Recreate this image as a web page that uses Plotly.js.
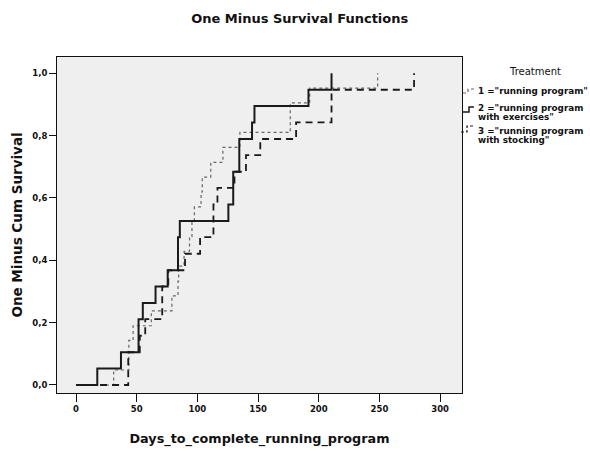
<!DOCTYPE html>
<html>
<head>
<meta charset="utf-8">
<script src="https://cdn.plot.ly/plotly-3.0.1.min.js"></script>
<style>html,body{margin:0;padding:0;background:#fff;}#chart{width:590px;height:451px;}</style>
</head>
<body>
<div id="chart"></div>
<script>
// Group 1: "running program" (dotted)
const days1 = [0, 31, 43.5, 47, 62, 79, 84, 84.5, 89, 93.5, 95.5, 97.5, 103, 104, 111, 121, 135, 176.5, 192.5, 248.5];
const surv1 = [0, 0.048, 0.143, 0.190, 0.238, 0.286, 0.333, 0.381, 0.429, 0.476, 0.524, 0.571, 0.619, 0.667, 0.714, 0.762, 0.810, 0.905, 0.952, 1.0];
// Group 2: "running program with exercises" (solid)
const days2 = [0, 17.5, 37, 51.5, 55, 65.5, 75.5, 84, 85.5, 125.5, 129.5, 134.5, 145, 147, 191.5, 210.5];
const surv2 = [0, 0.053, 0.105, 0.211, 0.263, 0.316, 0.368, 0.474, 0.526, 0.579, 0.684, 0.789, 0.842, 0.895, 0.947, 1.0];
// Group 3: "running program with stocking" (dashed)
const days3 = [0, 43, 52.5, 57, 71, 76, 89.8, 102.2, 113.2, 116.5, 130.5, 140, 151.8, 181.3, 210.5, 278.5];
const surv3 = [0, 0.105, 0.158, 0.211, 0.316, 0.368, 0.421, 0.474, 0.579, 0.632, 0.684, 0.737, 0.789, 0.842, 0.947, 1.0];

const legendTitle = 'Treatment';
const legendLines = [
  ['1 ="running program"'],
  ['2 ="running program', 'with exercises"'],
  ['3 ="running program', 'with stocking"']
];
const xTicks = [0, 50, 100, 150, 200, 250, 300];
const yTicks = [0, 0.2, 0.4, 0.6, 0.8, 1.0];

const styles = [
  {color: '#666', width: 1.2, dash: 'dot'},
  {color: '#1a1a1a', width: 2, dash: 'solid'},
  {color: '#1a1a1a', width: 1.8, dash: '7px,5px'}
];
const traces = [
  {x: days1, y: surv1, name: legendLines[0].join(' '), mode: 'lines', line: Object.assign({shape: 'hv'}, styles[0])},
  {x: days2, y: surv2, name: legendLines[1].join(' '), mode: 'lines', line: Object.assign({shape: 'hv'}, styles[1])},
  {x: days3, y: surv3, name: legendLines[2].join(' '), mode: 'lines', line: Object.assign({shape: 'hv'}, styles[2])}
];

// pixel -> paper helpers for the hand-placed legend (plot area 57..462 x 57..393)
const L = 57, R = 462, T = 57, B = 393;
const fx = px => (px - L) / (R - L);
const fy = py => (B - py) / (B - T);

const fam = 'DejaVu Sans, Arial, sans-serif';
const bold = {family: fam, color: '#111', weight: 'bold'};

const annotations = [
  {text: legendTitle, xref: 'paper', yref: 'paper', x: fx(535), y: fy(72), xanchor: 'center', yanchor: 'middle',
   showarrow: false, font: {family: fam, size: 10, color: '#111'}}
];
const rowY = [[91], [107.5, 117], [130.5, 140]];
legendLines.forEach((lines, i) => lines.forEach((t, j) => annotations.push({
  text: t, xref: 'paper', yref: 'paper', x: fx(476), y: fy(rowY[i][j]), xanchor: 'left', yanchor: 'middle',
  showarrow: false, font: Object.assign({}, bold, {size: 8.8})
})));

const symPts = [
  [[463, 93], [468, 93], [468, 89], [475, 89]],
  [[462, 112], [469, 112], [469, 107], [474, 107]],
  [[461, 132], [467, 132], [467, 126], [474, 126]]
];
const shapes = symPts.map((pts, i) => ({
  type: 'path', xref: 'paper', yref: 'paper',
  path: pts.map((p, k) => (k ? 'L' : 'M') + fx(p[0]).toFixed(4) + ',' + fy(p[1]).toFixed(4)).join(' '),
  line: {color: styles[i].color, width: i === 1 ? 1.5 : 1.2, dash: i === 0 ? 'dot' : (i === 2 ? '3px,2px' : 'solid')}
}));

const layout = {
  width: 590, height: 451,
  margin: {l: L, r: 590 - R, t: T, b: 451 - B, autoexpand: false},
  paper_bgcolor: '#ffffff',
  plot_bgcolor: '#efefef',
  separators: ', ',
  showlegend: false,
  title: {text: 'One Minus Survival Functions', x: 0.508, xref: 'container', y: 0.958, yref: 'container', yanchor: 'middle',
          font: Object.assign({}, bold, {size: 13})},
  xaxis: {
    range: [-15.7, 318], tickvals: xTicks, ticktext: xTicks.map(String),
    ticks: 'outside', ticklen: 8, tickcolor: '#111', showgrid: false, zeroline: false,
    showline: true, linecolor: '#111', linewidth: 1, mirror: true,
    tickfont: Object.assign({}, bold, {size: 8.5}),
    title: {text: 'Days_to_complete_running_program', font: Object.assign({}, bold, {size: 12.8}), standoff: 20}
  },
  yaxis: {
    range: [-0.0257, 1.052], tickvals: yTicks, tickformat: '.1f',
    ticks: 'outside', ticklen: 7, tickcolor: '#111', showgrid: false, zeroline: false,
    showline: true, linecolor: '#111', linewidth: 1, mirror: true,
    tickfont: Object.assign({}, bold, {size: 8.5}),
    title: {text: 'One Minus Cum Survival', font: Object.assign({}, bold, {size: 13.5}), standoff: 6}
  },
  annotations: annotations,
  shapes: shapes
};

Plotly.newPlot('chart', traces, layout, {displayModeBar: false, staticPlot: true});
</script>
</body>
</html>
